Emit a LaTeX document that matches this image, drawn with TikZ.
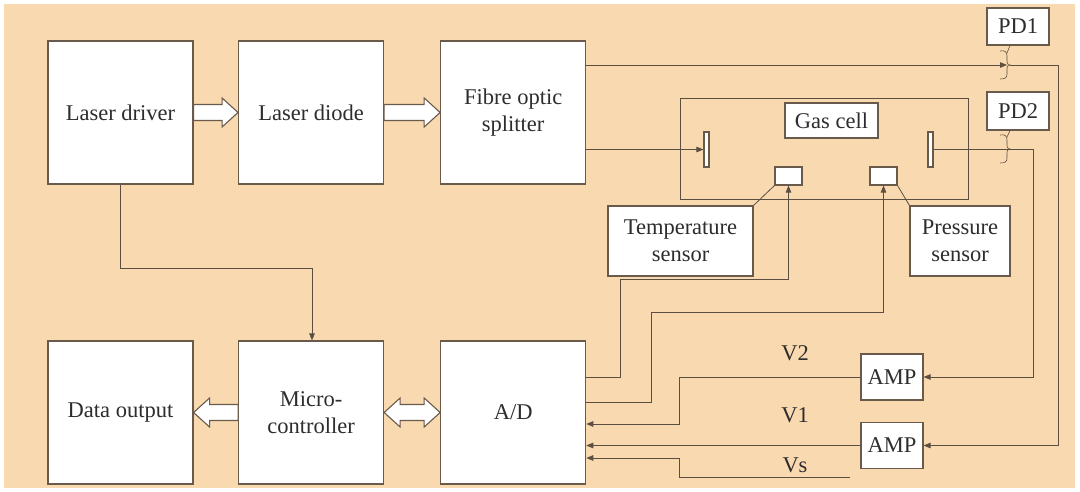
\documentclass[tikz,border=0pt]{standalone}
\usepackage{fontspec}
\setmainfont{Liberation Serif}
\usepackage{tikz}
\usetikzlibrary{calc}
\usetikzlibrary{positioning,arrows.meta}

\definecolor{bgpeach}{RGB}{249,217,175}
\definecolor{linec}{RGB}{92,78,64}
\definecolor{boxc}{RGB}{105,90,75}
\definecolor{txtc}{RGB}{45,45,45}

\tikzset{
  blk/.style={draw=boxc, fill=white, line width=1.1pt, inner sep=0pt, align=center},
  bigblk/.style={blk, minimum width=145pt, minimum height=143pt},
  smallblk/.style={blk, minimum width=62pt},
  wire/.style={draw=linec, line width=0.8pt},
  sig/.style={wire, -{Triangle[length=7pt,width=5.5pt]}},
  fine/.style={draw=linec, line width=0.6pt},
  hollow/.style={draw=boxc, fill=white, line width=1.1pt, line join=miter},
}

\newcommand{\fatarrow}[3]{%
  \draw[hollow] let \p1=(#1), \p2=(#2), \n1={\x2-(#3pt)} in
    (\x1,\y2+8pt) -- ({\n1*1pt},\y2+8pt) -- ({\n1*1pt},\y2+14.5pt) -- (\x2,\y2)
    -- ({\n1*1pt},\y2-14.5pt) -- ({\n1*1pt},\y2-8pt) -- (\x1,\y2-8pt) -- cycle;}

\newcommand{\coupler}[2]{%
  \draw[fine, shift={(#1)}] (-10,-14) .. controls (-5,-15) and (-3,-13) .. (-3,-9) -- (-3,-4)
    .. controls (-3,-1) .. (0,0) .. controls (-3,1) .. (-3,4) -- (-3,9)
    .. controls (-3,13) and (-5,14) .. (-10,14);
  \draw[fine] (#2.south) ++(-8,0) -- ($(#1)+(-3,-12)$);}

\begin{document}
\begin{tikzpicture}[x=1pt,y=-1pt,font=\fontsize{22.5}{27}\selectfont,text=txtc]

\useasboundingbox (0,0) rectangle (1080,492);
\fill[white] (0,0) rectangle (1080,492);
\fill[bgpeach] (4,4) rectangle (1075,488);

\node[bigblk] (driver) at (120.5,112.5) {Laser driver};
\node[bigblk, right=44.5pt of driver] (diode) {Laser diode};
\node[bigblk, right=56pt of diode] (splitter) {Fibre optic\\splitter};
\node[bigblk] (dataout) at (120.5,412.5) {Data output};
\node[bigblk, right=44.5pt of dataout] (micro) {Micro-\\controller};
\node[bigblk, right=56pt of micro] (adc) {A/D};

\node[draw=linec, line width=0.8pt, inner sep=0pt, minimum width=288pt, minimum height=101pt] (gascell) at (824,148.5) {};
\node[blk, minimum width=93pt, minimum height=35pt] (celllabel) at (831.5,120.5) {Gas cell};
\node[blk, minimum width=5pt, minimum height=35pt] (winL) at (706.5,149.5) {};
\node[blk, minimum width=5pt, minimum height=35pt] (winR) at (930.5,149.5) {};
\node[blk, minimum width=27pt, minimum height=18pt] (tempbox) at (788.5,176) {};
\node[blk, minimum width=27pt, minimum height=18pt] (presbox) at (883.5,176) {};
\node[blk, minimum width=145pt, minimum height=70pt] (templabel) at (680.5,241) {Temperature\\sensor};
\node[blk, minimum width=100pt, minimum height=70pt] (preslabel) at (960,241) {Pressure\\sensor};

\node[smallblk, minimum height=37pt] (pdone) at (1018,26.5) {PD1};
\node[smallblk, minimum height=38pt] (pdtwo) at (1018,111) {PD2};
\node[smallblk, minimum height=46pt] (amptwo) at (892,377) {AMP};
\node[smallblk, minimum height=46pt] (ampone) at (892,445.5) {AMP};

\node (vtwo) at (795,353) {V2};
\node (vone) at (795,415) {V1};
\node (vs) at (795,465) {Vs};

\coordinate (pdonetap) at (1010,65);
\coordinate (pdtwotap) at (1010,149);
\coordinate (vsin) at (850,477);

\fatarrow{driver.east}{diode.west}{16}
\fatarrow{diode.east}{splitter.west}{16}
\fatarrow{micro.west}{dataout.east}{-16}
\draw[hollow] let \p1=(micro.east), \p2=(adc.west) in
  (\x1,\y1) -- (\x1+16pt,\y1+14.5pt) -- (\x1+16pt,\y1+8pt) -- (\x2-16pt,\y1+8pt)
  -- (\x2-16pt,\y1+14.5pt) -- (\x2,\y1) -- (\x2-16pt,\y1-14.5pt) -- (\x2-16pt,\y1-8pt)
  -- (\x1+16pt,\y1-8pt) -- (\x1+16pt,\y1-14.5pt) -- cycle;

\draw[sig] (driver.south) |- (312,268) -- (312,268 |- micro.north);
\draw[sig, shorten >=3pt] (splitter.east |- pdonetap) -- (pdonetap);
\draw[sig] (pdonetap) -| (1058,445.5) -- (ampone.east);
\draw[sig] (splitter.east |- winL.west) -- (winL.west);
\draw[sig] (winR.east) -| (1033,377) -- (amptwo.east);
\draw[sig] (adc.east |- 0,377) -| (620,279) -| (tempbox.south);
\draw[sig] (adc.east |- 0,402) -| (651,312) -| (presbox.south);
\draw[sig] (amptwo.west) -| (679,424) -- (adc.east |- 0,424);
\draw[sig] (ampone.west) -- (ampone.west -| adc.east);
\draw[sig] (vsin) -| (679,458) -- (adc.east |- 0,458);
\draw[wire] (templabel.north east) -- (tempbox.south west);
\draw[wire] (preslabel.north west) -- (presbox.south east);

\coupler{pdonetap}{pdone}
\coupler{pdtwotap}{pdtwo}

\end{tikzpicture}
\end{document}
